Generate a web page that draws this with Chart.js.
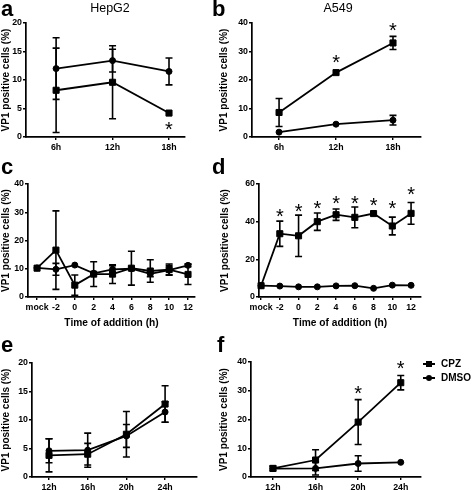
<!DOCTYPE html>
<html>
<head>
<meta charset="utf-8">
<script src="https://cdn.jsdelivr.net/npm/chart.js@4.4.1/dist/chart.umd.min.js"></script>
<style>
  body { margin: 0; background: #fff; }
  #fig { position: relative; width: 472px; height: 490px; overflow: hidden; font-family: "Liberation Sans", Arial, sans-serif; color: #000; }
  #fig canvas { position: absolute; }
  .letter { position: absolute; font-weight: bold; font-size: 22px; line-height: 1; }
  .title { position: absolute; width: 120px; text-align: center; font-size: 12.5px; line-height: 1; }
  .leg { position: absolute; left: 423px; height: 12px; line-height: 12px; padding-left: 18px; font-weight: bold; font-size: 10px; }
  .leg::before { content: ""; position: absolute; left: 0; top: 5px; width: 12px; height: 1.8px; background: #000; }
  .leg i { position: absolute; left: 3px; top: 3px; width: 6px; height: 6px; background: #000; }
  .leg i.dot { border-radius: 50%; }
</style>
</head>
<body>
<div id="fig">
  <canvas id="pa"></canvas>
  <canvas id="pb"></canvas>
  <canvas id="pc"></canvas>
  <canvas id="pd"></canvas>
  <canvas id="pe"></canvas>
  <canvas id="pf"></canvas>

  <div class="letter" style="left:1px;top:-2px">a</div>
  <div class="letter" style="left:212px;top:-2px">b</div>
  <div class="letter" style="left:1px;top:156px">c</div>
  <div class="letter" style="left:212px;top:156px">d</div>
  <div class="letter" style="left:1px;top:334px">e</div>
  <div class="letter" style="left:217px;top:334px">f</div>

  <div class="title" style="left:50px;top:2px">HepG2</div>
  <div class="title" style="left:278px;top:2px">A549</div>

  <div class="leg" id="leg0" style="top:358px"><i></i></div>
  <div class="leg" id="leg1" style="top:372px"><i class="dot"></i></div>
</div>

<script>
const seriesNames = ['CPZ', 'DMSO'];
const yTitle = 'VP1 positive cells (%)';
const xTitleAdd = 'Time of addition (h)';

// a - HepG2, hours post infection
const hoursAB = [6, 12, 18];
const hepg2Cpz = [8.2, 9.6, 4.2];
const hepg2CpzErr = [7.4, 6.4, 0];
const hepg2Dmso = [12.0, 13.4, 11.5];
const hepg2DmsoErr = [5.4, 2.0, 2.35];
const hepg2Stars = [[18, 2.0]];

// b - A549
const a549Cpz = [8.6, 22.6, 33.0];
const a549CpzErr = [4.9, 0, 2.3];
const a549Dmso = [1.7, 4.5, 5.9];
const a549DmsoErr = [0, 0, 1.7];
const a549Stars = [[12, 27.3], [18, 38.6]];

// c / d - time of addition
const addLabels = ['mock', '-2', '0', '2', '4', '6', '8', '10', '12'];
const hepg2AddCpz = [10.2, 16.6, 4.2, 8.1, 8.1, 10.2, 9.2, 9.7, 8.0];
const hepg2AddCpzErr = [0, 13.9, 3.6, 4.4, 3.3, 6.0, 4.0, 2.0, 3.6];
const hepg2AddDmso = [10.3, 9.8, 11.3, 8.4, 9.8, 10.0, 8.2, 9.5, 11.2];
const hepg2AddDmsoErr = [0, 2.1, 0, 0, 1.3, 0, 1.0, 1.6, 0.5];

const a549AddCpz = [6.0, 33.6, 32.5, 40.0, 43.7, 42.3, 44.3, 37.7, 44.4];
const a549AddCpzErr = [0, 6.7, 11.0, 4.6, 3.0, 5.5, 0, 4.7, 5.8];
const a549AddDmso = [6.0, 5.8, 5.4, 5.4, 5.9, 6.0, 4.6, 6.3, 6.2];
const a549AddDmsoErr = [0, 0, 0, 0, 0, 0, 0, 0, 0];
const a549AddStars = [[1, 44.4], [2, 47.4], [3, 48.8], [4, 51.5], [5, 51.5], [6, 50.6], [7, 48.8], [8, 56.3]];

// e / f - hours
const hoursEF = [12, 16, 20, 24];
const hepg2TimeCpz = [3.8, 4.0, 7.5, 12.8];
const hepg2TimeCpzErr = [2.9, 1.9, 4.0, 3.2];
const hepg2TimeDmso = [4.6, 4.7, 7.2, 11.4];
const hepg2TimeDmsoErr = [2.1, 3.0, 2.0, 1.8];

const a549TimeCpz = [3.0, 5.9, 19.1, 32.8];
const a549TimeCpzErr = [0.8, 3.6, 7.8, 2.5];
const a549TimeDmso = [2.9, 3.0, 4.7, 5.1];
const a549TimeDmsoErr = [0, 2.3, 2.7, 0];
const a549TimeStars = [[20, 30.4], [24, 38.8]];

const family = "'Liberation Sans', Arial, sans-serif";
Chart.defaults.font.family = family;
Chart.defaults.color = '#000';

document.querySelector('#leg0').append(seriesNames[0]);
document.querySelector('#leg1').append(seriesNames[1]);

// error bars under the markers, asterisks on top
const errorBars = {
    id: 'errorBars',
    beforeDatasetsDraw(chart) {
        const ctx = chart.ctx;
        const xs = chart.scales.x, ys = chart.scales.y;
        ctx.save();
        ctx.strokeStyle = '#000';
        ctx.lineWidth = 1.6;
        chart.data.datasets.forEach(ds => {
            (ds.errorBars || []).forEach((e, i) => {
                if (!e) return;
                const p = ds.data[i];
                const x = xs.getPixelForValue(p.x);
                const y1 = ys.getPixelForValue(p.y + e);
                const y2 = ys.getPixelForValue(p.y - e);
                ctx.beginPath();
                ctx.moveTo(x, y1); ctx.lineTo(x, y2);
                ctx.moveTo(x - 3.5, y1); ctx.lineTo(x + 3.5, y1);
                ctx.moveTo(x - 3.5, y2); ctx.lineTo(x + 3.5, y2);
                ctx.stroke();
            });
        });
        ctx.restore();
    },
    afterDatasetsDraw(chart, args, opts) {
        const stars = opts.stars || [];
        if (!stars.length) return;
        const ctx = chart.ctx;
        ctx.save();
        ctx.fillStyle = '#000';
        ctx.font = '20px ' + family;
        ctx.textAlign = 'center';
        ctx.textBaseline = 'alphabetic';
        const m = ctx.measureText('*');
        const off = (m.actualBoundingBoxAscent - m.actualBoundingBoxDescent) / 2;
        stars.forEach(s => {
            ctx.fillText('*', chart.scales.x.getPixelForValue(s[0]), chart.scales.y.getPixelForValue(s[1]) + off);
        });
        ctx.restore();
    }
};

function series(xs, ys, errs, square) {
    return {
        data: xs.map((x, i) => ({ x: x, y: ys[i] })),
        errorBars: errs,
        borderColor: '#000',
        backgroundColor: '#000',
        borderWidth: 1.8,
        pointStyle: square ? 'rect' : 'circle',
        pointRadius: square ? 4.3 : 3,
        pointBorderWidth: 1,
        pointBackgroundColor: '#000',
        tension: 0,
        clip: false
    };
}

function panel(id, p) {
    const cv = document.getElementById(id);
    cv.width = p.box[2];
    cv.height = p.box[3];
    cv.style.left = p.box[0] + 'px';
    cv.style.top = p.box[1] + 'px';
    const tickFont = { size: 8.8, weight: 'bold' };
    return new Chart(cv, {
        type: 'line',
        data: { datasets: p.datasets },
        options: {
            responsive: false,
            animation: false,
            layout: { padding: { top: p.pad[0], right: p.pad[1], bottom: 0, left: 0 } },
            plugins: {
                legend: { display: false },
                tooltip: { enabled: false },
                errorBars: { stars: p.stars || [] }
            },
            scales: {
                x: {
                    type: 'linear',
                    min: p.xmin,
                    max: p.xmax,
                    afterFit: s => { s.height = p.xh; },
                    afterBuildTicks: s => { s.ticks = p.xticks.map(v => ({ value: v })); },
                    grid: { drawOnChartArea: false, drawTicks: true, tickLength: 3, color: '#000', lineWidth: 1.4 },
                    border: { display: true, color: '#000', width: 1.7 },
                    ticks: {
                        font: tickFont, padding: 2, maxRotation: 0, autoSkip: false,
                        callback: p.xlabel
                    },
                    title: p.xtitle ? {
                        display: true, text: p.xtitle,
                        font: { size: 10.2, weight: 'bold' }, padding: { top: 0, bottom: 1 }
                    } : { display: false }
                },
                y: {
                    min: 0,
                    max: p.ymax,
                    afterFit: s => { s.width = p.yw; },
                    grid: { drawOnChartArea: false, drawTicks: true, tickLength: 3, color: '#000', lineWidth: 1.4 },
                    border: { display: true, color: '#000', width: 1.7 },
                    ticks: { stepSize: p.ystep, font: tickFont, padding: 1 },
                    title: {
                        display: true, text: yTitle,
                        font: { size: 10, weight: 'bold' }, padding: 0
                    }
                }
            }
        },
        plugins: [errorBars]
    });
}

const hourLabel = v => v + 'h';
const addLabel = v => addLabels[v];
const addIdx = addLabels.map((l, i) => i);

panel('pa', {
    box: [0, 0, 200, 155], pad: [23, 15], yw: 26, xh: 18,
    xmin: 2.8, xmax: 19.7, xticks: hoursAB, xlabel: hourLabel,
    ymax: 20, ystep: 5, stars: hepg2Stars,
    datasets: [series(hoursAB, hepg2Cpz, hepg2CpzErr, true), series(hoursAB, hepg2Dmso, hepg2DmsoErr, false)]
});

panel('pb', {
    box: [218, 0, 254, 155], pad: [23, 51], yw: 34, xh: 18,
    xmin: 3.15, xmax: 20.95, xticks: hoursAB, xlabel: hourLabel,
    ymax: 40, ystep: 10, stars: a549Stars,
    datasets: [series(hoursAB, a549Cpz, a549CpzErr, true), series(hoursAB, a549Dmso, a549DmsoErr, false)]
});

panel('pc', {
    box: [0, 160, 210, 170], pad: [24, 15], yw: 28, xh: 33,
    xmin: -0.48, xmax: 8.37, xticks: addIdx, xlabel: addLabel, xtitle: xTitleAdd,
    ymax: 40, ystep: 10,
    datasets: [series(addIdx, hepg2AddCpz, hepg2AddCpzErr, true), series(addIdx, hepg2AddDmso, hepg2AddDmsoErr, false)]
});

panel('pd', {
    box: [219, 160, 253, 170], pad: [24, 51], yw: 40, xh: 33,
    xmin: -0.11, xmax: 8.53, xticks: addIdx, xlabel: addLabel, xtitle: xTitleAdd,
    ymax: 60, ystep: 20, stars: a549AddStars,
    datasets: [series(addIdx, a549AddCpz, a549AddCpzErr, true), series(addIdx, a549AddDmso, a549AddDmsoErr, false)]
});

panel('pe', {
    box: [0, 340, 210, 150], pad: [23, 13], yw: 32, xh: 13,
    xmin: 10.24, xmax: 27.3, xticks: hoursEF, xlabel: hourLabel,
    ymax: 20, ystep: 5,
    datasets: [series(hoursEF, hepg2TimeCpz, hepg2TimeCpzErr, true), series(hoursEF, hepg2TimeDmso, hepg2TimeDmsoErr, false)]
});

panel('pf', {
    box: [218, 340, 254, 150], pad: [22, 51], yw: 33, xh: 13,
    xmin: 9.94, xmax: 25.9, xticks: hoursEF, xlabel: hourLabel,
    ymax: 40, ystep: 10, stars: a549TimeStars,
    datasets: [series(hoursEF, a549TimeCpz, a549TimeCpzErr, true), series(hoursEF, a549TimeDmso, a549TimeDmsoErr, false)]
});
</script>
</body>
</html>
